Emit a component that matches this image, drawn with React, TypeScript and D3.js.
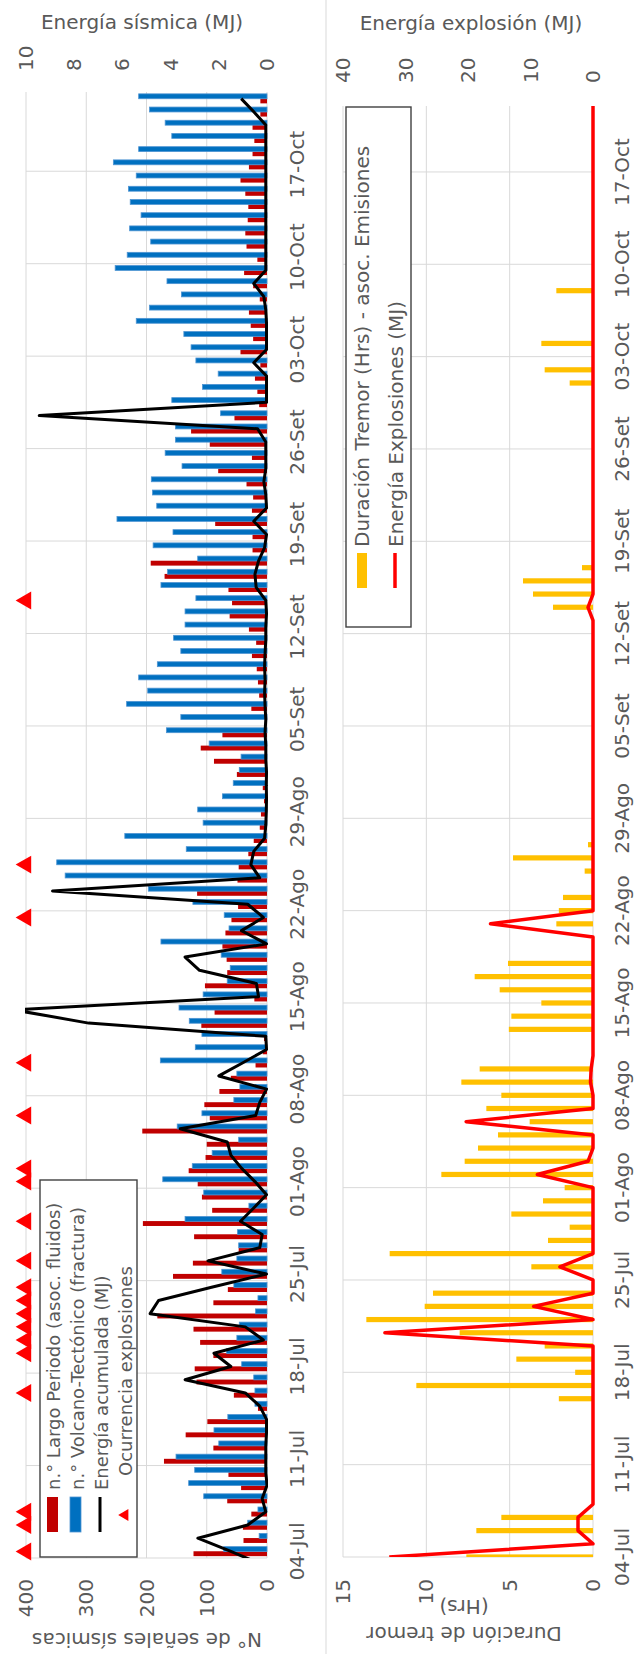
import React from 'react';
import * as d3 from 'd3';

const N = 111;
const tickLabels = ["04-Jul","11-Jul","18-Jul","25-Jul","01-Ago","08-Ago","15-Ago","22-Ago","29-Ago","05-Set","12-Set","19-Set","26-Set","03-Oct","10-Oct","17-Oct"];

const largoPeriodo = [
  122,39,40,26,66,43,64,171,89,135,99,
  15,55,117,120,89,111,122,182,89,65,
  156,123,47,121,206,91,108,115,130,102,
  100,207,95,104,79,60,19,7,5,109,
  87,21,103,66,67,74,69,59,48,116,
  49,47,31,22,12,10,5,7,50,88,
  110,74,3,26,13,15,17,25,18,30,
  62,58,64,170,193,24,24,86,25,23,
  34,81,25,95,126,54,13,16,20,11,
  44,23,27,30,12,23,38,16,34,36,
  32,31,36,44,30,24,21,24,11,11
];
const volcanoTectonico = [
  72,13,32,15,105,130,120,151,80,88,65,
  20,20,22,42,67,50,46,19,15,55,
  75,50,47,49,136,30,105,173,124,91,
  47,149,108,55,45,50,177,119,108,129,
  146,106,66,61,76,176,63,71,123,197,
  335,349,134,236,106,115,74,56,46,43,
  96,167,143,233,198,213,182,143,155,136,
  136,118,176,165,115,189,156,249,183,190,
  192,141,169,152,152,77,158,107,81,118,
  126,138,217,195,142,166,252,232,193,228,
  209,227,230,217,255,213,158,169,195,213
];
// energy (MJ); energiaPrevia belongs to 03-Jul (before the axis start)
const energiaPrevia = 0.2;
const energiaSismica = [
  1.5,2.87,0.8,0.05,0.2,0.0,0.05,0.05,0.05,0.02,0.02,
  0.3,0.9,3.4,1.5,2.2,0.15,0.9,4.85,4.5,2.3,
  0.02,2.45,0.3,0.2,1.1,0.55,0.02,0.5,1.05,1.5,
  1.65,3.6,0.47,0.3,0.02,2.0,1.0,0.02,0.05,7.4,
  10.5,0.35,0.44,2.8,3.4,0.02,1.06,0.15,0.8,8.9,
  0.3,0.67,0.55,0.1,0.05,0.03,0.02,0.03,0.02,0.05,
  0.05,0.08,0.05,0.08,0.1,0.08,0.1,0.08,0.05,0.05,
  0.02,0.05,0.45,0.5,0.35,0.1,0.02,0.55,0.02,0.05,
  0.13,0.05,0.05,0.05,0.39,9.45,0.02,0.02,0.02,0.55,
  0.02,0.02,0.02,0.05,0.13,0.55,0.05,0.05,0.05,0.05,
  0.05,0.05,0.05,0.05,0.05,0.05,0.05,0.05,0.55,1.07
];
const diasExplosion = [0,2,3,12,15,16,17,18,19,20,22,25,28,29,33,37,48,52,72];

const duracionTremor = [
  7.6,0,7.0,5.5,0,0,0,0,0,0,0,
  0,2.05,10.6,1.07,4.6,2.9,8.0,13.6,10.1,9.6,
  0,3.7,12.2,2.7,1.4,4.9,3.0,1.7,9.1,7.7,
  6.9,5.7,3.8,6.4,5.5,7.9,6.8,0,0,5.05,
  4.9,3.1,5.6,7.1,5.1,0,0,2.2,2.05,1.8,
  0,0.5,4.8,0.3,0,0,0,0,0,0,
  0,0,0,0,0,0,0,0,0,0,
  0,2.4,3.6,4.2,0.66,0,0,0,0,0,
  0,0,0,0,0,0,0,0,1.4,2.9,
  0,3.1,0,0,0,2.2,0,0,0,0,
  0,0,0,0,0,0,0,0,0,0
];
const energiaExplosion = [
  32.6,0,2.4,2.4,0,0,0,0,0,0,0,
  0,0,0,0,0,0,33.3,0,9.5,0,
  0,5.3,0,0,0,0,0,0,8.9,0.8,
  0,0,20.3,0,0,0.4,0.3,0,0,0,
  0,0,0,0,0,0,0,16.4,0,0,
  0,0,0,0,0,0,0,0,0,0,
  0,0,0,0,0,0,0,0,0,0,
  0,0.8,0,0,0,0,0,0,0,0,
  0,0,0,0,0,0,0,0,0,0,
  0,0,0,0,0,0,0,0,0,0,
  0,0,0,0,0,0,0,0,0,0
];

const FONT = "'DejaVu Sans', Lato, sans-serif";
const TXT = "#595959";
const GRID = "#D9D9D9";

export default function App() {
  const W = 1654, H = 636;
  // top chart
  const x0 = 96, x1 = 1562, yT = 26, yB = 267;
  const xBand = d3.scaleBand<number>().domain(d3.range(N)).range([x0, x1]);
  const bw = xBand.bandwidth();
  const xSub = d3.scaleBand<string>().domain(["lp", "vt"]).range([bw * 0.14, bw * 0.86]).paddingInner(-0.06);
  const xc = d3.scaleLinear().domain([-0.5, N - 0.5]).range([x0, x1]);
  const yL = d3.scaleLinear().domain([0, 400]).range([yB, yT]);
  const yR = d3.scaleLinear().domain([0, 10]).range([yB, yT]);
  // bottom chart
  const bx0 = 97, bx1 = 1548, bT = 343, bB = 593;
  const xb = d3.scaleLinear().domain([0, N - 1]).range([bx0, bx1]);
  const yH = d3.scaleLinear().domain([0, 15]).range([bB, bT]);
  const yE = d3.scaleLinear().domain([0, 40]).range([bB, bT]);

  const energyPts: [number, number][] = [[xc(-1), yR(energiaPrevia)], ...energiaSismica.map((v, i) => [xc(i), yR(v)] as [number, number])];
  const energyPath = d3.line()(energyPts) || "";
  const explPath = d3.line<number>().x((_, i) => xb(i)).y(v => yE(v))(energiaExplosion) || "";
  const tri = d3.symbol().type(d3.symbolTriangle).size(140)() || "";

  const tickIdx = tickLabels.map((_, k) => k * 7);

  return (
    <div style={{ position: "absolute", left: 0, top: 0 }}>
      <svg width={636} height={1654} style={{ display: "block", background: "#fff" }} fontFamily={FONT}>
        <defs>
          <clipPath id="clipTop"><rect x={x0} y={yT - 1} width={x1 - x0} height={yB - yT + 2} /></clipPath>
          <clipPath id="clipBot"><rect x={bx0} y={bT - 10} width={bx1 - bx0} height={bB - bT + 20} /></clipPath>
        </defs>
        <g transform={`translate(0,${W}) rotate(-90)`}>
          <rect x={0} y={0} width={W} height={H} fill="#fff" />
          {/* ===== TOP CHART ===== */}
          {[100, 200, 300, 400].map(v => (
            <line key={"gy" + v} x1={x0} x2={x1} y1={yL(v)} y2={yL(v)} stroke={GRID} strokeWidth={1} />
          ))}
          {tickIdx.map(i => (
            <line key={"gx" + i} x1={xBand(i)} x2={xBand(i)} y1={yT} y2={yB} stroke={GRID} strokeWidth={1} />
          ))}
          <line x1={x0} x2={x1} y1={yB} y2={yB} stroke={GRID} strokeWidth={1} />
          {largoPeriodo.map((v, i) => (
            <rect key={"lp" + i} x={(xBand(i) as number) + (xSub("lp") as number)} width={xSub.bandwidth()}
              y={yL(v)} height={yL(0) - yL(v)} fill="#C00000" />
          ))}
          {volcanoTectonico.map((v, i) => (
            <rect key={"vt" + i} x={(xBand(i) as number) + (xSub("vt") as number)} width={xSub.bandwidth()}
              y={yL(v)} height={yL(0) - yL(v)} fill="#0070C0" stroke="#4F95D3" strokeWidth={0.8} />
          ))}
          <path d={energyPath} clipPath="url(#clipTop)" fill="none" stroke="#000" strokeWidth={3} strokeLinejoin="round" />
          {diasExplosion.map(i => (
            <path key={"tr" + i} d={tri} transform={`translate(${xc(i)},${yL(400)})`} fill="#FF0000" />
          ))}
          {/* axis labels */}
          {[0, 100, 200, 300, 400].map(v => (
            <text key={"lt" + v} x={75} y={yL(v)} textAnchor="end" dominantBaseline="central" fontSize={20} fill={TXT}>{v}</text>
          ))}
          {[0, 2, 4, 6, 8, 10].map(v => (
            <text key={"rt" + v} x={1583} y={yR(v)} textAnchor="start" dominantBaseline="central" fontSize={20} fill={TXT}>{v}</text>
          ))}
          {tickIdx.map((i, k) => (
            <text key={"dt" + i} x={xc(i)} y={297} textAnchor="middle" dominantBaseline="central" fontSize={20} fill={TXT}>{tickLabels[k]}</text>
          ))}
          <text transform={`translate(14,147) rotate(-90)`} textAnchor="middle" dominantBaseline="central" fontSize={20} fill={TXT}>N° de señales sísmicas</text>
          <text transform={`translate(1632,142) rotate(90)`} textAnchor="middle" dominantBaseline="central" fontSize={20} fill={TXT}>Energía sísmica (MJ)</text>
          {/* legend top */}
          <rect x={97} y={40} width={377} height={97} fill="#fff" stroke="#404040" strokeWidth={1.4} />
          <rect x={122} y={47} width={35} height={11} fill="#C00000" />
          <rect x={122} y={70} width={35} height={11} fill="#0070C0" stroke="#4F95D3" strokeWidth={0.8} />
          <line x1={122} x2={157} y1={100} y2={100} stroke="#000" strokeWidth={3} />
          <path d={d3.symbol().type(d3.symbolTriangle).size(60)() || ""} transform="translate(139,125)" fill="#FF0000" />
          {["n.° Largo Periodo (asoc. fluidos)", "n.° Volcano-Tectónico (fractura)", "Energía acumulada (MJ)", "Ocurrencia explosiones"].map((t, k) => (
            <text key={"lg" + k} x={k === 3 ? 178 : 164} y={[53, 77, 101, 125][k]} dominantBaseline="central" fontSize={18} fill={TXT}>{t}</text>
          ))}

          {/* ===== BOTTOM CHART ===== */}
          <line x1={0} x2={W} y1={326} y2={326} stroke={GRID} strokeWidth={1} />
          {[5, 10, 15].map(v => (
            <line key={"bgy" + v} x1={bx0} x2={bx1} y1={yH(v)} y2={yH(v)} stroke={GRID} strokeWidth={1} />
          ))}
          {tickIdx.map(i => (
            <line key={"bgx" + i} x1={xb(i)} x2={xb(i)} y1={bT} y2={bB} stroke={GRID} strokeWidth={1} />
          ))}
          <line x1={bx0} x2={bx1} y1={bB} y2={bB} stroke={GRID} strokeWidth={1} />
          <g clipPath="url(#clipBot)">
            {duracionTremor.map((v, i) => v > 0 ? (
              <rect key={"tm" + i} x={xb(i) - 2.6} width={5.2} y={yH(v)} height={yH(0) - yH(v)} fill="#FFC000" />
            ) : null)}
            <path d={explPath} fill="none" stroke="#FF0000" strokeWidth={3.5} strokeLinejoin="round" />
          </g>
          {[0, 5, 10, 15].map(v => (
            <text key={"blt" + v} x={75} y={yH(v)} textAnchor="end" dominantBaseline="central" fontSize={20} fill={TXT}>{v}</text>
          ))}
          {[0, 10, 20, 30, 40].map(v => (
            <text key={"brt" + v} x={1571} y={yE(v)} textAnchor="start" dominantBaseline="central" fontSize={20} fill={TXT}>{v}</text>
          ))}
          {tickIdx.map((i, k) => (
            <text key={"bdt" + i} x={xb(i)} y={622} textAnchor="middle" dominantBaseline="central" fontSize={20} fill={TXT}>{tickLabels[k]}</text>
          ))}
          <text transform={`translate(20,464) rotate(-90)`} textAnchor="middle" dominantBaseline="central" fontSize={20} fill={TXT}>Duración de tremor</text>
          <text transform={`translate(47,464) rotate(-90)`} textAnchor="middle" dominantBaseline="central" fontSize={20} fill={TXT}>(Hrs)</text>
          <text transform={`translate(1631,471) rotate(90)`} textAnchor="middle" dominantBaseline="central" fontSize={20} fill={TXT}>Energía explosión (MJ)</text>
          {/* legend bottom */}
          <rect x={1027} y={346} width={520} height={65} fill="#fff" stroke="#404040" strokeWidth={1.4} />
          <rect x={1066} y={357} width={35} height={10} fill="#FFC000" />
          <line x1={1066} x2={1101} y1={395} y2={395} stroke="#FF0000" strokeWidth={3.5} />
          <text x={1107} y={362} dominantBaseline="central" fontSize={20} fill={TXT}>Duración Tremor (Hrs) - asoc. Emisiones</text>
          <text x={1107} y={396} dominantBaseline="central" fontSize={20} fill={TXT}>Energía Explosiones (MJ)</text>
        </g>
      </svg>
    </div>
  );
}
